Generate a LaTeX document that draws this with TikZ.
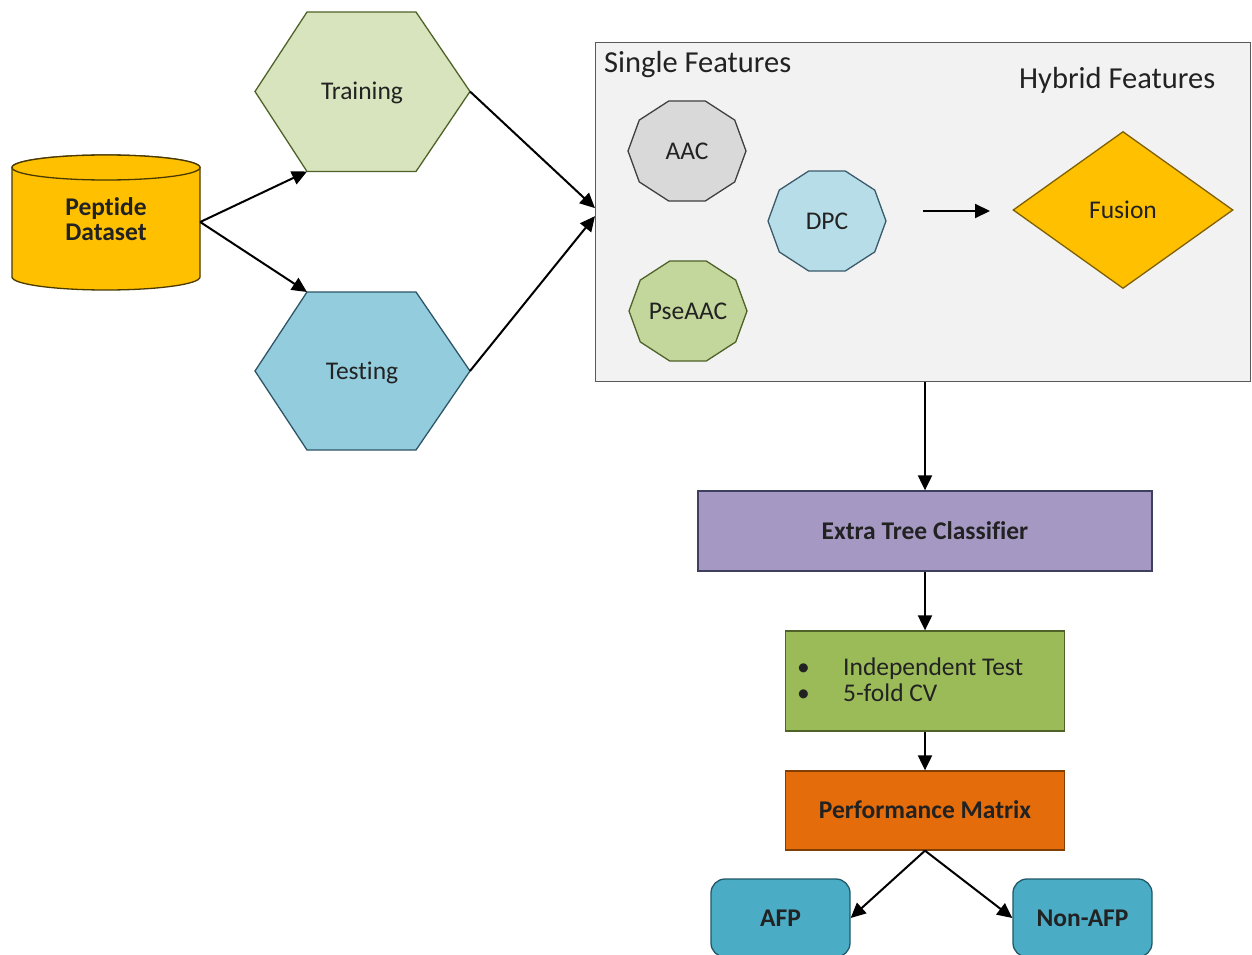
\documentclass[tikz,border=0pt]{standalone}
\usepackage{fontspec}
\setmainfont{Carlito}[Ligatures=NoCommon]
\usetikzlibrary{arrows.meta,shapes.geometric,calc}
\definecolor{txt}{HTML}{222222}
\definecolor{cylF}{HTML}{FFC000}\definecolor{cylD}{HTML}{4A3A00}
\definecolor{trF}{HTML}{D7E4BD}\definecolor{trD}{HTML}{4F6228}
\definecolor{teF}{HTML}{93CDDD}\definecolor{teD}{HTML}{2E5566}
\definecolor{boxF}{HTML}{F2F2F2}\definecolor{boxD}{HTML}{595959}
\definecolor{aacF}{HTML}{D9D9D9}\definecolor{aacD}{HTML}{404040}
\definecolor{dpcF}{HTML}{B7DEE8}\definecolor{dpcD}{HTML}{3B5A6B}
\definecolor{pseF}{HTML}{C3D69B}\definecolor{pseD}{HTML}{4F6228}
\definecolor{fusF}{HTML}{FFC000}\definecolor{fusD}{HTML}{7F6000}
\definecolor{etcF}{HTML}{A599C4}\definecolor{etcD}{HTML}{3F3F5F}
\definecolor{valF}{HTML}{9BBB59}\definecolor{valD}{HTML}{4F6228}
\definecolor{perfF}{HTML}{E46C0A}\definecolor{perfD}{HTML}{7F3F05}
\definecolor{afpF}{HTML}{4BACC6}\definecolor{afpD}{HTML}{215968}
\newcommand\mydecagon[3]{%
  \draw[#3] ({#1+59},{#2}) \foreach \a in {36,72,...,324}{ -- ({#1+59*cos(\a)},{#2+52.6*sin(\a)})} -- cycle;}
\begin{document}
\begin{tikzpicture}[x=1pt,y=-1pt,
  lbl/.style={font=\fontsize{25.5}{26}\selectfont, text=txt, inner sep=0pt, text height=16.4pt, text depth=0pt},
  head/.style={font=\fontsize{30.5}{32}\selectfont, text=txt, inner sep=0pt},
  itm/.style={font=\fontsize{25.5}{26}\selectfont, text=txt, inner sep=0pt},
  shp/.style={line width=1.3pt},
  arr/.style={line width=2pt, -{Triangle[length=15pt,width=14pt]}},
  rbox/.style={shp, inner sep=0pt, text=txt, font=\fontsize{25.5}{26}\selectfont\bfseries, text height=16.4pt, text depth=0pt},
]
\useasboundingbox (0,0) rectangle (1252,955);
\clip (0,0) rectangle (1252,955);
\fill[white] (0,0) rectangle (1252,955);

% Peptide dataset cylinder
\draw[shp, draw=cylD, fill=cylF] (12,167.5) -- (12,277) arc[start angle=180, end angle=0, x radius=94, y radius=13] -- (200,167.5) arc[start angle=0, end angle=-180, x radius=94, y radius=12.5] -- cycle;
\draw[shp, draw=cylD, fill=cylF] (106,167.5) ellipse[x radius=94, y radius=12.5];
\node[inner sep=0pt, minimum width=188pt, minimum height=135pt] (data) at (106,222) {};
\node[font=\fontsize{25.5}{25}\selectfont\bfseries, text=txt, align=center, inner sep=0pt] (datalbl) at (106,219.5) {Peptide\\Dataset};

% Training / Testing hexagons
\draw[shp, draw=trD, fill=trF] (255,91.5) -- (307,12) -- (416,12) -- (470,91.5) coordinate (trR) -- (416,171.5) -- (307,171.5) coordinate (trBL) -- cycle;
\node[lbl] (train) at (362,91.5) {Training};
\draw[shp, draw=teD, fill=teF] (255,371) -- (307,292) coordinate (teTL) -- (416,292) -- (470,371) coordinate (teR) -- (416,450) -- (307,450) -- cycle;
\node[lbl] (test) at (362,371) {Testing};

\draw[arr] (data.east) -- (trBL);
\draw[arr] (data.east) -- (teTL);

% Features box
\node[shp, draw=boxD, fill=boxF, anchor=north west, minimum width=655pt, minimum height=339pt, inner sep=0pt] (feat) at (595,42) {};
\node[head, anchor=base west] (sf) at (604,72.5) {Single Features};
\node[head, anchor=base west] (hf) at (1019,89) {Hybrid Features};

\draw[arr] (trR) -- ([yshift=4pt]feat.west);
\draw[arr] (teR) -- ([yshift=-4pt]feat.west);

\mydecagon{687}{151}{shp, draw=aacD, fill=aacF}
\node[lbl] (aac) at (687,151) {AAC};
\mydecagon{827}{221}{shp, draw=dpcD, fill=dpcF}
\node[lbl] (dpc) at (827,221) {DPC};
\mydecagon{688}{311}{shp, draw=pseD, fill=pseF}
\node[lbl] (pse) at (688,311) {PseAAC};

\node[shp, diamond, aspect=1.4, draw=fusD, fill=fusF, minimum width=220pt, minimum height=157pt, inner sep=0pt, font=\fontsize{25.5}{26}\selectfont, text=txt, text height=16.4pt, text depth=0pt] (fus) at (1123,210) {Fusion};

\coordinate (fa1) at (923,211);
\coordinate (fa2) at (990,211);
\draw[arr] (fa1) -- (fa2);

% Pipeline
\node[rbox, draw=etcD, fill=etcF, minimum width=454pt, minimum height=80pt] (etc) at (925,531) {Extra Tree Classifier};
\node[shp, draw=valD, fill=valF, minimum width=279pt, minimum height=100pt, inner sep=0pt] (val) at (925,681) {};
\node[itm, anchor=base west] (b1) at (797,675) {\makebox[46pt][l]{•}Independent Test};
\node[itm, anchor=base west] (b2) at (797,701) {\makebox[46pt][l]{•}5-fold CV};
\node[rbox, draw=perfD, fill=perfF, minimum width=279pt, minimum height=79pt] (perf) at (925,810.5) {Performance Matrix};
\node[rbox, draw=afpD, fill=afpF, rounded corners=14pt, minimum width=139pt, minimum height=78pt] (afp) at (780.5,918) {AFP};
\node[rbox, draw=afpD, fill=afpF, rounded corners=14pt, minimum width=139pt, minimum height=78pt] (nafp) at (1082.5,918) {Non-AFP};

\draw[arr] (feat.south -| etc.north) -- (etc.north);
\draw[arr] (etc.south) -- (val.north);
\draw[arr] (val.south) -- (perf.north);
\draw[arr] (perf.south) -- (afp.east);
\draw[arr] (perf.south) -- (nafp.west);
\end{tikzpicture}
\end{document}
